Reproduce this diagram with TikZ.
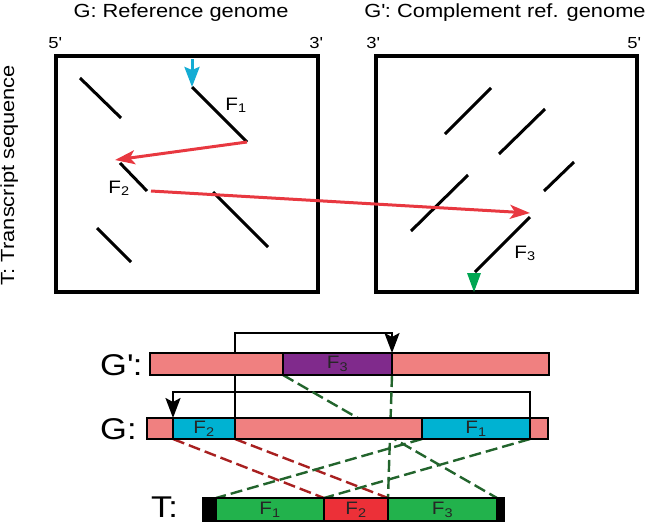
\documentclass[tikz,border=0pt]{standalone}
\usepackage{fontspec}
\setmainfont{Liberation Sans}[FakeStretch=1.15]
\usetikzlibrary{arrows.meta,positioning,backgrounds}
\definecolor{barpink}{RGB}{240,128,128}
\definecolor{fcyan}{RGB}{0,178,210}
\definecolor{fpurple}{RGB}{128,42,140}
\definecolor{fgreen}{RGB}{34,178,76}
\definecolor{fred}{RGB}{236,48,56}
\definecolor{dashgreen}{RGB}{34,100,44}
\definecolor{dashred}{RGB}{168,32,32}
\definecolor{jumpred}{RGB}{232,56,64}
\definecolor{startcyan}{RGB}{20,172,212}
\definecolor{endgreen}{RGB}{0,166,82}
\newcommand{\prm}{\textquotesingle}
\tikzset{
  seg/.style={draw, line width=1.8pt, inner sep=0pt, outer sep=0pt, minimum height=22pt,
    font=\fontsize{18}{18}\selectfont, text=black!85},
  frag/.style={line width=3pt},
  jump/.style={line width=3pt, jumpred, -{Stealth[length=20pt,width=14pt,inset=5pt]}},
  link/.style={line width=2.4pt, -{Stealth[length=20pt,width=15pt,inset=4pt]}},
  match/.style={line width=2.4pt, dash pattern=on 12pt off 5pt},
  lbl/.style={font=\fontsize{18}{18}\selectfont, inner sep=0pt},
  endlbl/.style={font=\fontsize{16}{16}\selectfont, inner sep=0pt, anchor=base},
  title/.style={font=\fontsize{19}{19}\selectfont, inner sep=0pt, anchor=base},
  biglbl/.style={font=\fontsize{30}{30}\selectfont, inner sep=0pt, anchor=base west},
}
\begin{document}
\begin{tikzpicture}[x=1pt, y=-1pt]
\useasboundingbox (0,0) rectangle (648,523);

\node[title] (gtitle) at (181,17) {G: Reference genome};
\node[title] (gptitle) at (505,17) {G\prm: Complement ref. genome};
\node[title, rotate=90] (ttitle) at (14,175) {T: Transcript sequence};
\node[endlbl] (g5) at (55,48) {5\prm};
\node[endlbl] (g3) at (316,48) {3\prm};
\node[endlbl] (gp3) at (373,48) {3\prm};
\node[endlbl] (gp5) at (634,48) {5\prm};

\draw [line width=4pt] (56,56) rectangle (318,292);
\draw [line width=4pt] (376,56) rectangle (637,292);

\draw [frag] (80,78) -- (121,118);
\draw [frag] (192,87) coordinate (f1s) -- (247,142) coordinate (f1e);
\draw [frag] (120,163) -- (147,191);
\draw [frag] (213,192) -- (268,247);
\draw [frag] (97,228) -- (131,262);
\draw [frag] (445,134) -- (491,88);
\draw [frag] (499,154) -- (545,109);
\draw [frag] (544,191) -- (574,162);
\draw [frag] (411,231) -- (468,175);
\draw [frag] (530,217) -- (475,272);

\coordinate (f2tip) at (115,160);
\coordinate (f2out) at (151,191);
\coordinate (f3tip) at (530,213);
\draw [jump] (f1e) -- (f2tip);
\draw [jump] (f2out) -- (f3tip);
\draw [line width=3pt, startcyan, -{Stealth[length=20pt,width=15pt,inset=3pt]}] (192,59) -- (f1s);
\fill [endgreen] (467,273) -- (481,273) -- (474,292) -- cycle;

\node[lbl, anchor=base] (f1lab) at (236,110) {F\textsubscript{1}};
\node[lbl, anchor=base] (f2lab) at (119,193) {F\textsubscript{2}};
\node[lbl, anchor=base] (f3lab) at (525,258) {F\textsubscript{3}};

\node[biglbl] (gplab) at (100,375) {G\prm:};
\node[biglbl] (glab) at (100,439) {G:};
\node[biglbl] (tlab) at (151,517) {T:};

\node[seg, fill=barpink, minimum width=133pt, anchor=north west] (gpA) at (150,353) {};
\node[seg, fill=fpurple, minimum width=109pt, right=0pt of gpA] (gpF3) {F\textsubscript{3}};
\node[seg, fill=barpink, minimum width=157pt, right=0pt of gpF3] (gpB) {};

\node[seg, fill=barpink, minimum width=26pt, minimum height=21pt, anchor=north west] (gA) at (147,418) {};
\node[seg, fill=fcyan, minimum width=62pt, minimum height=21pt, right=0pt of gA] (gF2) {F\textsubscript{2}};
\node[seg, fill=barpink, minimum width=187pt, minimum height=21pt, right=0pt of gF2] (gB) {};
\node[seg, fill=fcyan, minimum width=108pt, minimum height=21pt, right=0pt of gB] (gF1) {F\textsubscript{1}};
\node[seg, fill=barpink, minimum width=18pt, minimum height=21pt, right=0pt of gF1] (gC) {};

\node[seg, fill=black, minimum width=13pt, minimum height=23pt, anchor=north west] (tA) at (203,498) {};
\node[seg, fill=fgreen, minimum width=108pt, minimum height=23pt, right=0pt of tA] (tF1) {F\textsubscript{1}};
\node[seg, fill=fred, minimum width=64pt, minimum height=23pt, right=0pt of tF1] (tF2) {F\textsubscript{2}};
\node[seg, fill=fgreen, minimum width=109pt, minimum height=23pt, right=0pt of tF2] (tF3) {F\textsubscript{3}};
\node[seg, fill=black, minimum width=7pt, minimum height=23pt, right=0pt of tF3] (tB) {};

\begin{scope}[on background layer]
\draw [link] (gF2.north east) |- ([yshift=20pt]gpF3.north east) -- (gpF3.north east);
\draw [link] (gF1.north east) |- ([yshift=26pt]gF2.north west) -- (gF2.north west);
\draw [match, dashred] (gF2.south west) -- (tF2.north west);
\draw [match, dashred] (gF2.south east) -- (tF2.north east);
\draw [match, dashgreen] (gF1.south west) -- (tF1.north west);
\draw [match, dashgreen] (gF1.south east) -- (tF1.north east);
\draw [match, dashgreen] (gpF3.south west) -- (tF3.north east);
\draw [match, dashgreen] (gpF3.south east) -- (tF3.north west);
\end{scope}

\end{tikzpicture}
\end{document}
